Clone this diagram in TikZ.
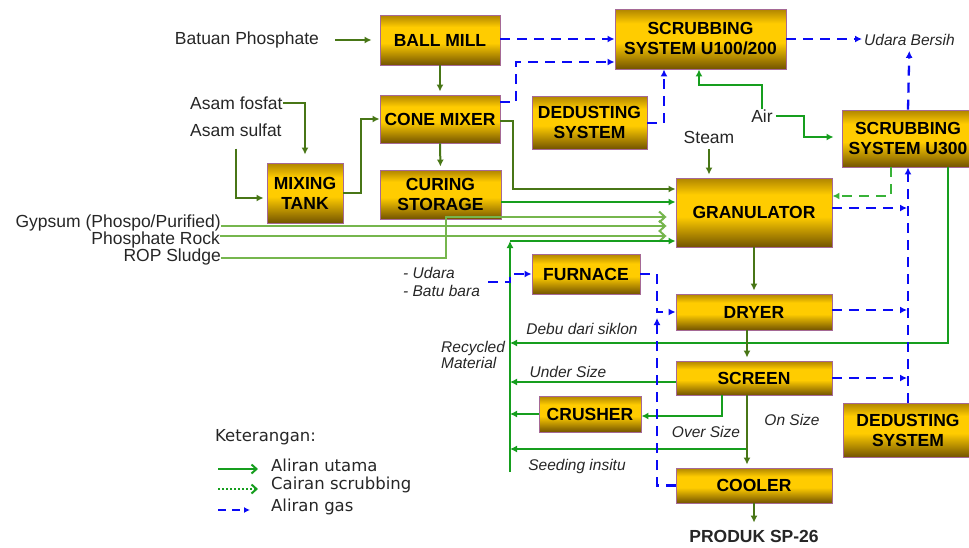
\documentclass[tikz,border=0pt]{standalone}
\usepackage{fontspec}
\setmainfont{Liberation Sans}
\newfontfamily\legendfont{DejaVu Sans}
\usetikzlibrary{arrows.meta}

\definecolor{olivegreen}{RGB}{72,118,22}
\definecolor{flowgreen}{RGB}{22,158,30}
\definecolor{feedgreen}{RGB}{118,182,78}
\definecolor{liquidgreen}{RGB}{56,178,56}
\definecolor{gasblue}{RGB}{10,10,245}
\definecolor{boxgold}{RGB}{255,204,0}
\definecolor{boxdark}{RGB}{115,84,0}
\definecolor{boxtop}{RGB}{175,132,0}
\definecolor{boxedge}{RGB}{165,105,150}

\pgfdeclareverticalshading{unitshade}{100bp}{color(0bp)=(boxdark); color(25bp)=(boxdark); color(47bp)=(boxgold); color(63bp)=(boxgold); color(75bp)=(boxtop); color(100bp)=(boxtop)}

\tikzset{
  unitbox/.style={draw=boxedge, line width=0.9pt, shading=unitshade, align=center, inner sep=0pt,
    font=\fontsize{17.5}{20}\selectfont\bfseries},
  lbl/.style={font=\fontsize{17.5}{20}\selectfont, text=black!85, inner sep=0pt},
  itl/.style={font=\fontsize{15.5}{18}\selectfont\itshape, text=black!85, inner sep=0pt},
  legendtext/.style={anchor=west, font=\legendfont\fontsize{16.5}{19}\selectfont, text=black!85, inner sep=0pt},
  mainflow/.style={draw=olivegreen, line width=2pt, -{Latex[length=7pt,width=7pt]}},
  recflow/.style={draw=flowgreen, line width=2pt, -{Latex[length=7pt,width=7pt]}},
  feedflow/.style={draw=feedgreen, line width=2pt, -{Straight Barb[length=6pt,width=11pt]}, shorten >=9pt},
  gasflow/.style={draw=gasblue, line width=2.3pt, dash pattern=on 10pt off 7pt, -{Latex[length=7pt,width=7pt]}},
  liquidflow/.style={draw=liquidgreen, line width=2.3pt, dash pattern=on 10pt off 7pt, -{Latex[length=7pt,width=7pt]}}
}

\begin{document}
\begin{tikzpicture}[x=1pt,y=-1pt]
\useasboundingbox (0,0) rectangle (969,547);

% Process units
\node[unitbox, minimum width=120, minimum height=50] (ballmill) at (440,40) {BALL MILL};
\node[unitbox, minimum width=120, minimum height=48] (conemixer) at (440,119) {CONE MIXER};
\node[unitbox, minimum width=121, minimum height=49] (curing) at (440.5,194.5) {CURING\\STORAGE};
\node[unitbox, minimum width=76, minimum height=60] (mixtank) at (305,193) {MIXING\\TANK};
\node[unitbox, minimum width=171, minimum height=60] (scrub12) at (700.5,39) {SCRUBBING\\SYSTEM U100/200};
\node[unitbox, minimum width=115, minimum height=53] (dedust1) at (589.5,122.5) {DEDUSTING\\SYSTEM};
\node[unitbox, minimum width=132, minimum height=57] (scrub3) at (908,138.5) {SCRUBBING\\SYSTEM U300};
\node[unitbox, minimum width=156, minimum height=69] (granulator) at (754,212.5) {GRANULATOR};
\node[unitbox, minimum width=156, minimum height=36] (dryer) at (754,312) {DRYER};
\node[unitbox, minimum width=156, minimum height=34] (screen) at (754,378) {SCREEN};
\node[unitbox, minimum width=156, minimum height=35] (cooler) at (754,485.5) {COOLER};
\node[unitbox, minimum width=130, minimum height=54] (dedust2) at (908,430) {DEDUSTING\\SYSTEM};
\node[unitbox, minimum width=108, minimum height=40] (furnace) at (586,274) {FURNACE};
\node[unitbox, minimum width=102, minimum height=36] (crusher) at (590,414) {CRUSHER};

% Inputs and outputs
\node[lbl] (batuan) at (247,40) {Batuan Phosphate};
\node[lbl, anchor=west] (fosfat) at (190,103) {Asam fosfat};
\node[lbl, anchor=west] (sulfat) at (190,130) {Asam sulfat};
\node[lbl, anchor=east] (gypsum) at (221,223) {Gypsum (Phospo/Purified)};
\node[lbl, anchor=east] (phosrock) at (220,240) {Phosphate Rock};
\node[lbl, anchor=east] (rop) at (221,257) {ROP Sludge};
\node[lbl] (steam) at (709,137) {Steam};
\node[lbl] (air) at (762,116) {Air};
\node[lbl, font=\fontsize{17.5}{20}\selectfont\bfseries] (produk) at (754,536) {PRODUK SP-26};
\node[itl, anchor=west] (udara) at (864,40) {Udara Bersih};
\node[itl, anchor=west, align=left] (fuel) at (403,282) {- Udara\\- Batu bara};
\node[itl, anchor=west, align=left, font=\fontsize{15.5}{16.5}\selectfont\itshape] (recycled) at (441,355) {Recycled\\Material};
\node[itl] (debu) at (582,329) {Debu dari siklon};
\node[itl] (under) at (568,372) {Under Size};
\node[itl] (over) at (706,432) {Over Size};
\node[itl] (onsize) at (792,420) {On Size};
\node[itl] (seeding) at (577,466) {Seeding insitu};

% Solids feed
\draw[mainflow, shorten <=16pt, shorten >=8pt] (batuan.east) -- (ballmill.west);
\draw[mainflow, shorten >=3pt] (ballmill.south) -- (conemixer.north);
\draw[mainflow, shorten >=8pt] (fosfat.east) -| (mixtank.north);
\draw[mainflow, shorten <=12pt, shorten >=3pt] (sulfat.south) |- ([yshift=-5pt]mixtank.west);
\draw[mainflow] (mixtank.east) -- ++(18,0) |- (conemixer.west);
\draw[mainflow, shorten >=3pt] (conemixer.south) -- (curing.north);
\draw[mainflow] ([yshift=-2pt]conemixer.east) -- ++(13,0) |- (granulator.west |- 0,189);
\draw[recflow] (curing.east |- 0,202) -- (granulator.west |- 0,202);

% Raw materials to granulator
\draw[feedflow] (gypsum.east |- 0,226) -- (granulator.west |- 0,226);
\draw[feedflow] (phosrock.east |- 0,236) -- (granulator.west |- 0,236);
\draw[feedflow] (rop.east |- 0,258) -| (446,217) -- (granulator.west |- 0,217);

% Recycle loop
\coordinate (recbottom) at (510,472);
\coordinate (reccorner) at (510,241);
\coordinate (seedpt) at (747,449);
\draw[recflow] (recbottom) -- (reccorner);
\draw[recflow] (reccorner) -- (granulator.west |- reccorner);
\draw[recflow] (scrub3.south -| 948,0) |- (reccorner |- 0,343);
\draw[recflow] (screen.west |- 0,382) -- (reccorner |- 0,382);
\draw[recflow] (screen.south -| 722,0) |- (crusher.east |- 0,416);
\draw[recflow] (crusher.west) -- (reccorner |- crusher.west);
\draw[recflow] (seedpt) -- (reccorner |- seedpt);

% Main train
\draw[mainflow, shorten <=6pt, shorten >=3pt] (steam.south) -- (granulator.north -| steam.south);
\draw[mainflow, shorten >=3pt] (granulator.south) -- (dryer.north);
\draw[mainflow, shorten >=3pt] (dryer.south -| 747,0) -- (screen.north -| 747,0);
\draw[mainflow, shorten >=3pt] (screen.south -| 747,0) -- (cooler.north -| 747,0);
\draw[mainflow, shorten >=7pt] (cooler.south) -- (produk.north);

% Air to scrubbers
\draw[recflow] (air.north) |- (699,85) -- (scrub12.south -| 699,0);
\draw[recflow, shorten <=3pt, shorten >=8pt] (air.east) -| (804,137) -- (scrub3.west |- 0,137);

% Gas lines
\draw[gasflow] (ballmill.east |- 0,39) -- (scrub12.west |- 0,39);
\draw[gasflow] (conemixer.east |- 0,102) -| (516,62) -- (scrub12.west |- 0,62);
\draw[gasflow] (dedust1.east |- 0,123) -| (scrub12.south -| 664,0);
\draw[gasflow, shorten >=2pt] (scrub12.east |- 0,39) -- (udara.west |- 0,39);
\draw[gasflow, shorten >=5pt] (scrub3.north) -- (udara.south);
\draw[gasflow] (dedust2.north) -- (scrub3.south);
\foreach \blk/\y in {granulator/208, dryer/310, screen/378}
  \draw[gasflow, shorten >=1pt] (\blk.east |- 0,\y) -- (dedust2.north |- 0,\y);
\draw[gasflow, shorten <=8pt] (fuel.east) -| (510,274) -- (furnace.west);
\draw[gasflow] (furnace.east) -| (657,312) -- (dryer.west);
\draw[gasflow] (cooler.west) -| (657,318);

% Scrubbing liquid
\draw[liquidflow] (scrub3.south -| 891,0) |- (granulator.east |- 0,196);

% Legend
\node[legendtext] (legend) at (215,437) {Keterangan:};
\node[legendtext] (lgmain) at (271,465) {Aliran utama};
\node[legendtext] (lgliquid) at (271,485) {Cairan scrubbing};
\node[legendtext] (lggas) at (271,507) {Aliran gas};
\draw[draw=flowgreen, line width=2pt, -{Straight Barb[length=5pt,width=9pt]}] (218,469) -- (258,469);
\draw[draw=flowgreen, line width=2pt, dotted, -{Straight Barb[length=5pt,width=9pt]}] (218,489) -- (258,489);
\draw[draw=gasblue, line width=2pt, dash pattern=on 8pt off 6pt, -{Latex[length=6pt,width=6pt]}] (218,510) -- (250,510);
\end{tikzpicture}
\end{document}
